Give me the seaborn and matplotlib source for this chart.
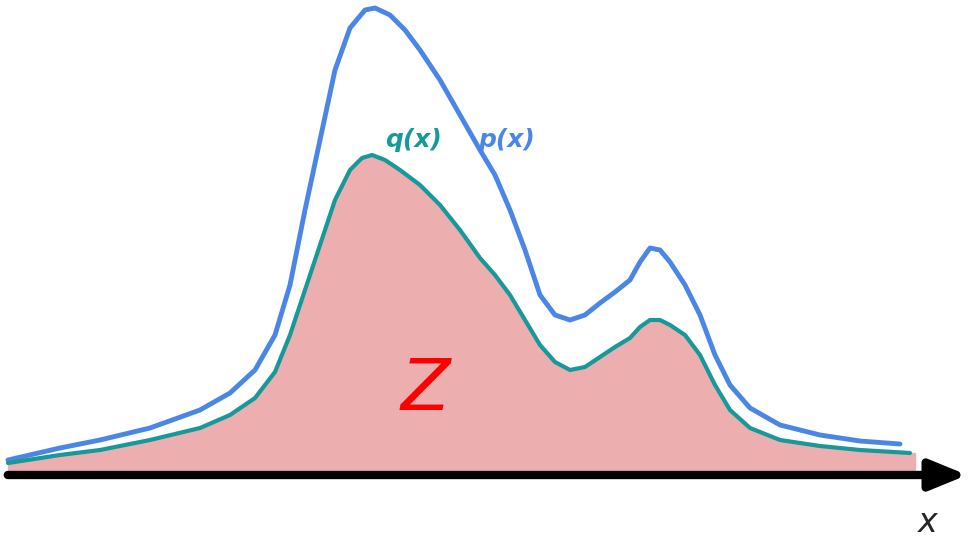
import matplotlib
matplotlib.use("Agg")
import matplotlib.pyplot as plt
import seaborn as sns
import pandas as pd

p_x = [8, 60, 100, 150, 200, 230, 255, 275, 290, 305, 320, 335, 350, 365, 375, 390, 405, 420, 440, 460, 480, 495, 510, 525, 540, 555, 570, 585, 600, 615, 630, 640, 650, 660, 670, 685, 700, 715, 730, 750, 780, 820, 860, 900]
p_y = [460, 448, 440, 428, 410, 393, 370, 335, 285, 210, 140, 70, 28, 10, 8, 15, 30, 50, 80, 115, 150, 175, 210, 250, 295, 315, 320, 315, 303, 292, 280, 262, 248, 250, 262, 285, 315, 355, 385, 408, 425, 435, 441, 444]
q_x = [8, 60, 100, 150, 200, 230, 255, 275, 290, 305, 320, 335, 350, 362, 372, 385, 400, 420, 440, 460, 480, 495, 510, 525, 540, 555, 570, 585, 600, 615, 630, 640, 650, 660, 670, 685, 700, 715, 730, 750, 780, 820, 860, 910]
q_y = [463, 455, 450, 440, 428, 415, 398, 372, 335, 290, 245, 200, 170, 158, 155, 160, 170, 185, 205, 230, 258, 275, 295, 320, 345, 362, 370, 367, 357, 347, 338, 327, 320, 320, 325, 335, 355, 385, 410, 428, 440, 446, 450, 453]

sns.set_style("white")
fig = plt.figure(figsize=(9.72, 5.38), dpi=100)
ax = fig.add_axes([0, 0, 1, 1])
ax.set_xlim(0, 972)
ax.set_ylim(538, 0)
ax.axis("off")

df_p = pd.DataFrame({"x": p_x, "y": p_y})
df_q = pd.DataFrame({"x": q_x, "y": q_y})
ax.fill_between(q_x, q_y, 470, color="#ecaeae", zorder=1)
ax.fill_between([910, 915], [453, 453], 470, color="#ecaeae", zorder=1)
sns.lineplot(data=df_p, x="x", y="y", ax=ax, color="#4a86e8", lw=3.5, sort=False, zorder=3)
sns.lineplot(data=df_q, x="x", y="y", ax=ax, color="#16999a", lw=3, sort=False, zorder=3)

ax.annotate("", xy=(970, 475), xytext=(5, 475),
            arrowprops=dict(arrowstyle="-|>,head_length=2.2,head_width=0.9", lw=6, color="black"), zorder=4)
ax.text(928, 522, "x", fontsize=24, style="italic", ha="center", va="center")
ax.text(413, 140, "q(x)", fontsize=18, style="italic", weight="bold", color="#16999a", ha="center", va="center")
ax.text(507, 140, "p(x)", fontsize=18, style="italic", weight="bold", color="#4a86e8", ha="center", va="center")
ax.text(425, 390, "Z", fontsize=52, color="#ff0000", style="italic", ha="center", va="center")
fig.savefig("out.png", dpi=100)
